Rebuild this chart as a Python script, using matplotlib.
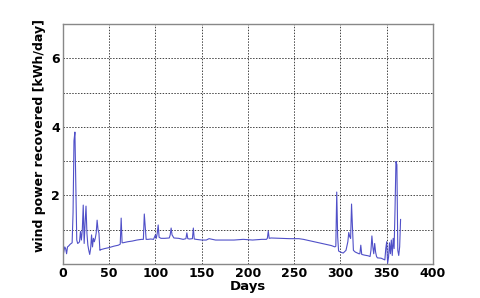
import matplotlib
matplotlib.use("Agg")
import matplotlib.pyplot as plt

# (day, kWh/day) readings taken off the reference curve
readings = [
    (0, 0.21), (1, 0.35), (2, 0.50), (3, 0.45), (4, 0.30), (5, 0.50),
    (6, 0.52), (7, 0.55), (8, 0.58), (9, 0.60), (10, 0.62), (11, 1.50),
    (12, 3.60), (13, 3.85), (14, 2.20), (15, 0.70), (16, 0.60), (17, 0.62),
    (18, 0.65), (19, 0.95), (20, 0.70), (21, 1.00), (22, 1.72), (23, 0.60),
    (24, 1.20), (25, 1.69), (26, 0.90), (27, 0.55), (28, 0.40), (29, 0.28),
    (30, 0.45), (31, 0.85), (32, 0.50), (33, 0.75), (34, 0.65), (35, 0.75),
    (36, 0.90), (37, 1.28), (38, 1.00), (39, 0.90), (40, 0.40), (41, 0.42),
    (45, 0.45), (50, 0.48), (55, 0.52), (60, 0.55), (62, 0.58), (63, 1.34),
    (64, 0.62), (65, 0.62), (70, 0.65), (75, 0.67), (80, 0.70), (85, 0.72),
    (87, 0.72), (88, 1.46), (89, 1.10), (90, 0.72), (92, 0.72), (95, 0.73),
    (98, 0.72), (100, 0.85), (101, 0.75), (102, 0.90), (103, 1.14),
    (104, 0.78), (106, 0.75), (110, 0.75), (115, 0.76), (116, 0.85),
    (117, 1.05), (118, 0.85), (120, 0.76), (125, 0.75), (130, 0.72),
    (133, 0.74), (134, 0.91), (135, 0.74), (137, 0.73), (140, 0.74),
    (141, 1.05), (142, 0.73), (144, 0.72), (150, 0.70), (155, 0.70),
    (158, 0.74), (165, 0.70), (175, 0.70), (185, 0.70), (195, 0.72),
    (205, 0.70), (215, 0.72), (220, 0.72), (221, 0.75), (222, 0.96),
    (223, 0.75), (225, 0.76), (235, 0.75), (245, 0.74), (255, 0.74),
    (260, 0.72), (270, 0.66), (280, 0.60), (290, 0.54), (294, 0.50),
    (295, 0.52), (296, 2.10), (297, 0.80), (298, 0.38), (300, 0.35),
    (303, 0.32), (306, 0.40), (308, 0.65), (309, 0.92), (310, 0.80),
    (311, 0.75), (312, 1.75), (313, 1.10), (314, 0.40), (316, 0.35),
    (320, 0.30), (321, 0.30), (322, 0.55), (323, 0.28), (326, 0.26),
    (330, 0.24), (332, 0.22), (333, 0.40), (334, 0.82), (335, 0.50),
    (336, 0.30), (337, 0.60), (338, 0.35), (339, 0.22), (340, 0.18),
    (344, 0.17), (348, 0.12), (349, 0.45), (350, 0.65), (351, 0.02),
    (352, 0.20), (353, 0.62), (354, 0.30), (355, 0.70), (356, 0.25),
    (357, 0.75), (358, 0.45), (359, 1.60), (360, 2.99), (361, 2.90),
    (362, 0.40), (363, 0.25), (364, 0.50), (365, 1.30),
]
days = [d for d, _ in readings]
power = [v for _, v in readings]

xticks = [0, 50, 100, 150, 200, 250, 300, 350, 400]
yticks = [0, 1, 2, 3, 4, 5, 6, 7]
ytick_labels = ["", "", "2", "", "4", "", "6", ""]

plt.rcParams["font.family"] = ["DejaVu Sans"]
fig = plt.figure(figsize=(4.8, 2.98), dpi=100)
ax = fig.add_axes([0.131, 0.114, 0.771, 0.805])
ax.plot(days, power, color="#5050c8", linewidth=0.8)
ax.set_xlim(0, 400)
ax.set_ylim(0, 7)
ax.set_xticks(xticks)
ax.set_xticklabels([str(t) for t in xticks], fontweight="bold", fontsize=9)
ax.set_yticks(yticks)
ax.set_yticklabels(ytick_labels, fontweight="bold", fontsize=9)
ax.tick_params(length=0, pad=2)
ax.grid(True, color="#444444", linestyle=(0, (1.5, 1.5)), linewidth=0.7)
for s in ax.spines.values():
    s.set_color("#888888")
    s.set_linewidth(1.0)
ax.set_xlabel("Days", fontweight="bold", fontsize=9.5, labelpad=0)
ax.set_ylabel("wind power recovered [kWh/day]", fontweight="bold", fontsize=9)
ax.yaxis.set_label_coords(-0.045, 0.535)
fig.savefig("out.png", dpi=100)
